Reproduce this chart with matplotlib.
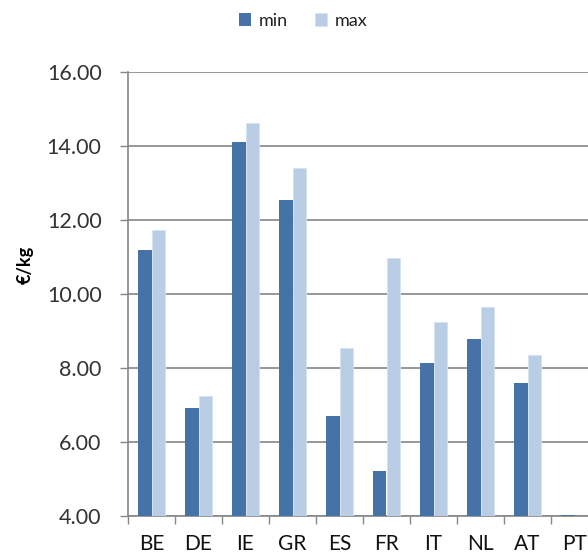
import matplotlib.pyplot as plt
import numpy as np

countries = ["BE", "DE", "IE", "GR", "ES", "FR", "IT", "NL", "AT", "PT"]
min_vals = [11.19, 6.91, 14.12, 12.54, 6.69, 5.22, 8.13, 8.78, 7.59, 4.03]
max_vals = [11.73, 7.25, 14.63, 13.41, 8.53, 10.96, 9.24, 9.65, 8.36, 0.0]
y_ticks = [4, 6, 8, 10, 12, 14, 16]

plt.rcParams['font.family'] = ['Lato', 'DejaVu Sans']

fig = plt.figure(figsize=(5.88, 5.58), dpi=100)
# plot area runs a little past the right edge, as in the source
ax = fig.add_axes([128 / 588, 42 / 558, 470 / 588, 444 / 558])

x = np.arange(len(countries))
w = 0.284
ax.bar(x - w / 2, min_vals, w, color="#4572A7", label="min", zorder=3)
ax.bar(x + w / 2, max_vals, w, color="#B9CDE5", edgecolor="#D6E2F0",
       linewidth=0.6, label="max", zorder=3)

ax.set_xlim(-0.5, len(countries) - 0.5)
ax.set_ylim(4, 16)
ax.set_yticks(y_ticks)
ax.set_yticklabels([f"{v:.2f}" for v in y_ticks], fontsize=15.5, color="#333333")
ax.set_xticks(x)
ax.set_xticklabels(countries, fontsize=15, color="#111111")
ax.set_xticks(np.arange(-0.5, len(countries)), minor=True)
ax.tick_params(axis="x", which="major", length=0, pad=13)
ax.tick_params(axis="x", which="minor", length=6, color="#868686", width=1)
ax.tick_params(axis="y", length=6, color="#868686", width=1, pad=13)

ax.yaxis.grid(True, color="#868686", linewidth=1.2, zorder=0)
for side in ["top", "right"]:
    ax.spines[side].set_visible(False)
for side in ["left", "bottom"]:
    ax.spines[side].set_color("#868686")
    ax.spines[side].set_linewidth(1.2)

ax.set_ylabel("€/kg", fontsize=13, fontweight="bold")
ax.yaxis.set_label_coords(-0.2, 0.565)

leg = fig.legend(loc="center", bbox_to_anchor=(303 / 588, 1 - 21 / 558), ncol=2,
                 frameon=False, fontsize=13, handlelength=0.7, handleheight=0.7,
                 handletextpad=0.4, columnspacing=1.5)
for t in leg.get_texts():
    t.set_color("#222222")

fig.savefig("out.png", dpi=100)
